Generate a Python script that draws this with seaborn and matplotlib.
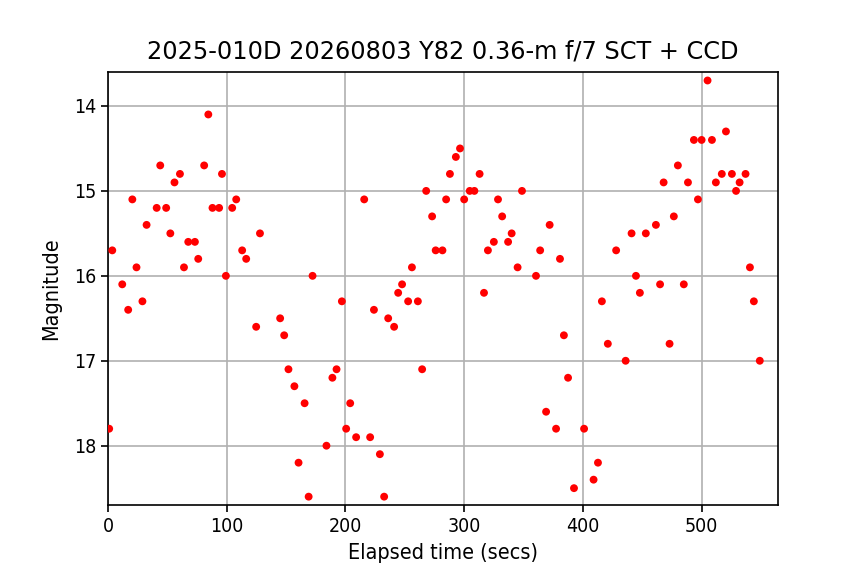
import pandas as pd
import matplotlib
matplotlib.use("Agg")
import matplotlib.pyplot as plt
import seaborn as sns

# Elapsed time (s) and magnitude
elapsed = [1, 3.6, 12, 17, 20.5, 24, 29, 32.5, 41, 44, 49, 52.5, 56, 60.6, 64,
           67.6, 73.2, 76, 81, 84.5, 88, 93.6, 96, 99.3, 104.6, 108, 113, 116.4,
           124.8, 128, 145, 148.4, 152, 157, 160.5, 165.6, 169, 172.3, 184, 189,
           192.5, 197, 200.6, 204, 209, 215.8, 220.8, 224, 229, 232.6, 236, 241,
           244.4, 247.7, 252.8, 256, 261, 264.6, 268, 273, 276, 281.7, 284.8, 288,
           293, 296.5, 300, 304.7, 308.6, 313, 316.7, 320, 325, 328.5, 332, 337,
           340, 345, 348.7, 360.5, 364, 369, 372, 377.4, 380.7, 384, 387.5, 392.5,
           401, 409, 412.7, 416, 421, 428, 436, 441, 444.7, 448, 453, 461.5, 465,
           468, 473, 476.6, 480, 485, 488.5, 493.5, 496.9, 500, 505, 508.7, 512,
           517, 520.5, 525.5, 529, 532, 537, 540.7, 544, 549]
magnitude = [17.8, 15.7, 16.1, 16.4, 15.1, 15.9, 16.3, 15.4, 15.2, 14.7, 15.2, 15.5,
             14.9, 14.8, 15.9, 15.6, 15.6, 15.8, 14.7, 14.1, 15.2, 15.2, 14.8, 16.0,
             15.2, 15.1, 15.7, 15.8, 16.6, 15.5, 16.5, 16.7, 17.1, 17.3, 18.2, 17.5,
             18.6, 16.0, 18.0, 17.2, 17.1, 16.3, 17.8, 17.5, 17.9, 15.1, 17.9, 16.4,
             18.1, 18.6, 16.5, 16.6, 16.2, 16.1, 16.3, 15.9, 16.3, 17.1, 15.0, 15.3,
             15.7, 15.7, 15.1, 14.8, 14.6, 14.5, 15.1, 15.0, 15.0, 14.8, 16.2, 15.7,
             15.6, 15.1, 15.3, 15.6, 15.5, 15.9, 15.0, 16.0, 15.7, 17.6, 15.4, 17.8,
             15.8, 16.7, 17.2, 18.5, 17.8, 18.4, 18.2, 16.3, 16.8, 15.7, 17.0, 15.5,
             16.0, 16.2, 15.5, 15.4, 16.1, 14.9, 16.8, 15.3, 14.7, 16.1, 14.9, 14.4,
             15.1, 14.4, 13.7, 14.4, 14.9, 14.8, 14.3, 14.8, 15.0, 14.9, 14.8, 15.9,
             16.3, 17.0]

title = "2025-010D 20260803 Y82 0.36-m f/7 SCT + CCD"

df = pd.DataFrame({"elapsed": elapsed, "magnitude": magnitude})

plt.rcParams["font.family"] = ["DejaVu Sans"]
plt.rcParams["font.stretch"] = "condensed"

fig, ax = plt.subplots(figsize=(8.64, 5.76), dpi=100)
fig.subplots_adjust(left=0.125, right=0.9, top=0.875, bottom=0.123)

sns.scatterplot(data=df, x="elapsed", y="magnitude", color="red", s=32,
                edgecolor="none", ax=ax, zorder=3)

ax.set_xlim(0, 564)
ax.set_ylim(18.7, 13.6)
ax.set_xticks([0, 100, 200, 300, 400, 500])
ax.set_yticks([14, 15, 16, 17, 18])
ax.grid(True, color="#b0b0b0", linewidth=1.2)
ax.set_axisbelow(True)
ax.tick_params(labelsize=14, length=5, width=1.2)
for side in ax.spines.values():
    side.set_linewidth(1.2)
ax.set_title(title, fontsize=17.3, fontstretch="normal", pad=10)
ax.set_xlabel("Elapsed time (secs)", fontsize=15.5, labelpad=5)
ax.set_ylabel("Magnitude", fontsize=15.5, labelpad=9)

plt.savefig("out.png", dpi=100)
